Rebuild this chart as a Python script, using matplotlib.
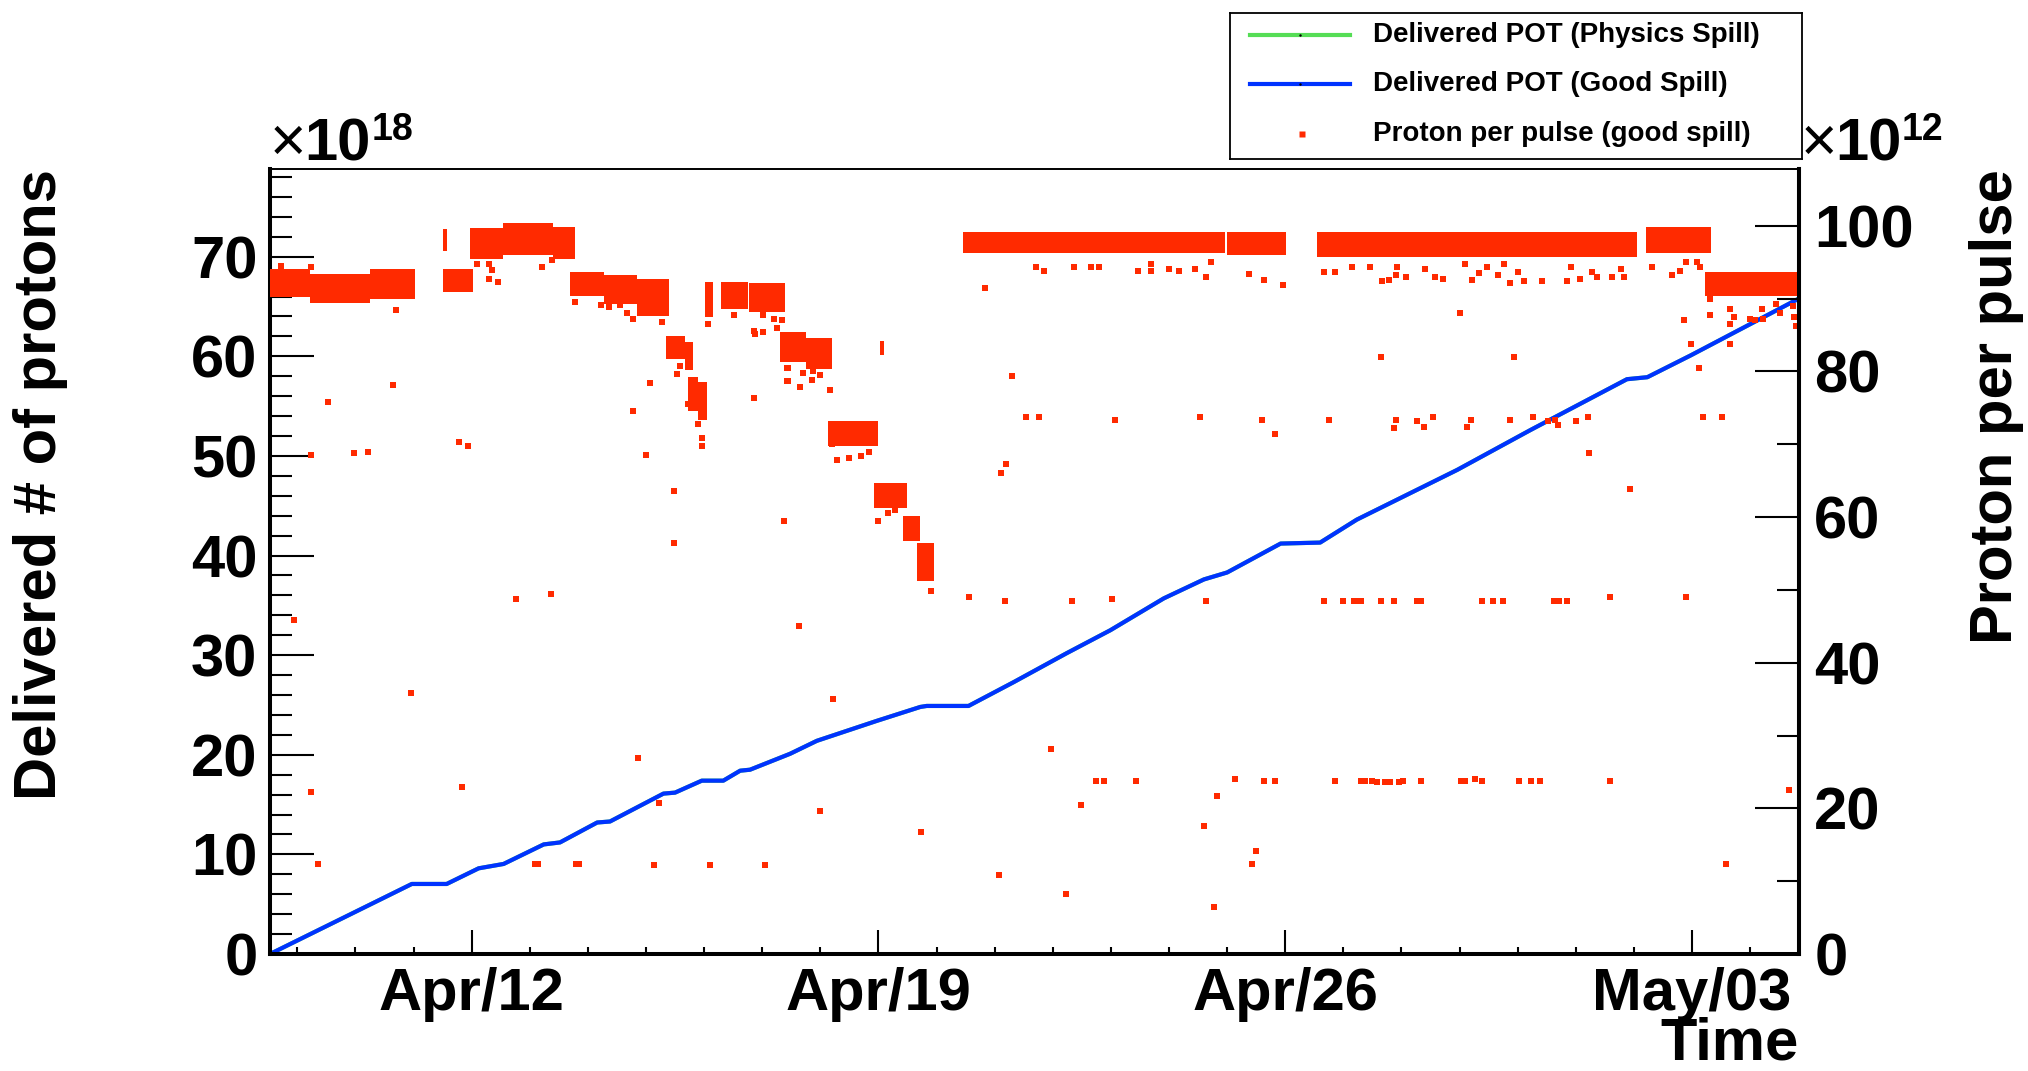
import numpy as np
import matplotlib
matplotlib.use("Agg")
import matplotlib.pyplot as plt
import matplotlib.dates as mdates
from matplotlib.ticker import MultipleLocator, FixedLocator

plt.rcParams['font.family'] = ['Liberation Sans', 'DejaVu Sans']
plt.rcParams['font.weight'] = 'bold'

# time is counted in days from Apr/12 00:00
T0 = np.datetime64('2013-04-12T00:00')
x_range = [-3.47, 22.84]
major_dates = ['2013-04-12', '2013-04-19', '2013-04-26', '2013-05-03']

# accumulated delivered POT (x10^18)
pot_days = [-3.47, -1.03, -0.43, 0.12, 0.55, 1.24, 1.52, 2.16, 2.38, 3.30, 3.50,
            3.96, 4.33, 4.62, 4.79, 5.48, 5.94, 6.97, 7.72, 7.83, 8.55, 9.33,
            10.24, 10.99, 11.91, 12.60, 13.00, 13.92, 14.60, 15.23, 16.96,
            18.22, 19.88, 20.23, 20.98, 22.84]
pot_good = [0.0, 7.03, 7.03, 8.6, 9.04, 11.0, 11.2, 13.2, 13.3, 16.1, 16.2,
            17.4, 17.4, 18.4, 18.5, 20.1, 21.4, 23.4, 24.8, 24.9, 24.9, 27.3,
            30.2, 32.5, 35.7, 37.6, 38.3, 41.2, 41.3, 43.6, 48.6,
            52.6, 57.7, 57.9, 60.1, 65.8]
pot_physics = pot_good

# dense runs of protons per pulse (x10^12): start day, end day, low, high
band_start = [-3.47, -2.78, -1.75, -0.50, -0.49, -0.03, 0.54, 1.40, 1.70, 2.27,
              2.84, 3.35, 3.67, 3.72, 3.90, 4.01, 4.29, 4.78, 5.31, 5.75, 7.03,
              6.13, 6.92, 7.43, 7.66, 8.46, 12.99, 14.54, 20.20, 21.23]
band_end = [-2.78, -1.75, -0.97, -0.43, 0.03, 0.54, 1.40, 1.78, 2.27, 2.84,
            3.39, 3.67, 3.81, 3.90, 4.05, 4.15, 4.75, 5.40, 5.75, 6.20, 7.09,
            7.00, 7.49, 7.72, 7.95, 12.97, 14.02, 20.05, 21.32, 22.87]
band_low = [90.2, 89.4, 90.0, 96.5, 90.9, 95.5, 96.0, 95.4, 90.4, 89.3,
            87.6, 81.7, 80.2, 74.5, 73.3, 87.5, 88.6, 88.2, 81.3, 80.3, 82.2,
            69.7, 61.3, 56.7, 51.2, 96.2, 96.0, 95.7, 96.2, 90.4]
band_high = [94.0, 93.4, 94.1, 99.5, 94.1, 99.7, 100.4, 99.9, 93.7, 93.2,
             92.7, 84.9, 84.0, 79.2, 78.5, 92.3, 92.3, 92.1, 85.4, 84.6, 84.2,
             73.2, 64.7, 60.1, 56.5, 99.2, 99.2, 99.2, 99.9, 93.7]

# isolated spills (x10^12)
ppp_days = [
    -3.28, -2.76, -1.31, 0.09, 0.29, 0.35, 0.45, 0.29, 1.21, 1.38,
    1.77, 2.23, 2.36, 2.55, 2.68, 2.77, 2.90, 3.27,
    3.58, 3.54, 3.73, 3.90, 3.97, 3.97,
    4.06, 4.52, 4.85, 4.88, 5.01, 5.01, 5.20, 5.26, 5.34,
    -2.48, -1.36, -2.76, -2.02, -1.79, -0.21, -0.07, 3.07, 2.77, 3.00,
    3.49, 3.49, 4.85, 5.37, 5.42, 5.42,
    -3.06, 0.77, 1.37, -1.05, -2.76, -0.17, -2.64, 1.09, 1.15, 1.80, 1.84,
    2.87, 3.23, 3.13, 4.10, 5.05,
    5.44, 5.70, 5.45, 5.65, 5.85, 5.88, 5.99, 6.16,
    6.20, 6.28, 6.49, 6.70, 6.83, 6.99, 7.16, 7.29, 7.90,
    8.84, 9.29, 9.54, 9.77, 11.07, 12.53, 13.60, 13.83, 9.19, 9.10,
    9.71, 9.84, 11.46, 11.69, 11.69, 12.00, 12.17, 12.44, 12.63, 12.72,
    13.37, 13.63, 13.96, 10.36, 10.65, 10.79,
    5.63, 6.21, 5.99, 8.55, 9.17, 10.33, 11.01, 12.63, 7.74, 9.97,
    10.75, 10.88, 11.43, 10.49, 9.07, 10.23, 12.60, 12.82, 13.14, 13.63,
    13.83, 13.50, 13.43, 12.78,
    14.66, 14.86, 15.15, 15.45, 15.67, 15.78, 15.91, 15.93, 16.07, 16.41,
    16.58, 16.72, 17.10, 17.22, 17.33, 17.47, 17.66, 17.76, 17.87, 18.01,
    18.10, 18.42, 18.85, 18.91, 19.08, 19.28, 19.37, 19.62, 19.77, 19.83,
    20.31, 20.66, 20.80, 20.90, 21.09, 21.14,
    17.00, 15.64, 17.93, 20.86, 20.98, 21.12, 21.31, 21.31, 21.66, 21.73,
    21.66, 21.66, 22.00, 22.09, 22.21, 22.22, 22.44, 22.51, 22.74, 22.76,
    22.78,
    14.76, 15.90, 15.87, 16.27, 16.38, 16.55, 17.20, 17.13, 17.87, 18.26,
    18.52, 18.65, 18.69, 19.01, 19.21, 21.19, 21.51, 19.23, 19.94,
    14.66, 14.99, 15.18, 15.24, 15.31, 15.64, 15.87, 16.27, 16.34, 17.39,
    17.58, 17.74, 18.62, 18.71, 18.84, 19.58, 20.89,
    14.86, 15.31, 15.38, 15.49, 15.58, 15.72, 15.81, 15.95, 16.03, 16.33,
    17.03, 17.10, 17.26, 17.39, 18.03, 18.23, 18.39, 19.58,
    22.66, 21.59,
]
ppp_vals = [
    94.5, 94.4, 88.5, 94.8, 94.8, 93.9, 92.3, 92.7, 94.4, 95.3,
    89.5, 89.1, 88.8, 89.1, 88.0, 87.2, 88.8, 86.8,
    80.8, 79.7, 75.5, 72.8, 70.9, 69.8,
    86.5, 87.8, 85.6, 85.2, 85.4, 87.7, 87.2, 85.9, 87.0,
    75.8, 78.1, 68.5, 68.8, 69.0, 70.3, 69.8, 78.4, 74.5, 68.5,
    63.6, 56.4, 76.3, 59.5, 80.5, 78.7,
    45.9, 48.8, 49.4, 35.8, 22.3, 23.0, 12.4, 12.4, 12.4, 12.4, 12.4,
    26.9, 20.7, 12.2, 12.2, 12.2,
    80.5, 79.8, 78.7, 77.9, 78.8, 80.1, 79.5, 77.4,
    70.0, 67.9, 68.1, 68.4, 68.9, 59.5, 60.5, 61.0, 49.8,
    91.4, 79.4, 73.7, 73.7, 73.4, 73.7, 73.4, 71.4, 67.3, 66.1,
    94.3, 93.8, 93.8, 94.8, 93.8, 94.0, 93.8, 94.1, 93.0, 95.0,
    93.4, 92.5, 91.9, 94.4, 94.4, 94.4,
    45.1, 35.0, 19.6, 49.0, 48.5, 48.5, 48.8, 48.5, 16.8, 28.2,
    23.8, 23.8, 23.8, 20.4, 10.8, 8.2, 17.6, 21.7, 24.1, 23.8,
    23.8, 14.2, 12.4, 6.4,
    93.7, 93.7, 94.3, 94.4, 92.4, 92.6, 93.2, 94.3, 93.0, 94.0,
    93.0, 92.7, 94.8, 92.5, 93.5, 94.4, 93.2, 94.8, 92.1, 93.6,
    92.4, 92.4, 92.4, 94.3, 92.7, 93.7, 93.0, 93.0, 94.0, 93.0,
    94.3, 93.2, 93.8, 95.0, 95.0, 94.3,
    88.0, 82.0, 82.0, 87.0, 83.8, 80.5, 89.9, 87.8, 88.6, 87.5,
    86.5, 83.8, 87.2, 87.0, 88.6, 87.2, 89.3, 88.0, 89.0, 87.5,
    86.2,
    73.4, 73.4, 72.2, 73.2, 72.4, 73.7, 73.4, 72.4, 73.4, 73.7,
    73.2, 73.4, 72.7, 73.2, 73.7, 73.7, 73.7, 68.8, 63.8,
    48.5, 48.5, 48.5, 48.5, 48.5, 48.5, 48.5, 48.5, 48.5, 48.5,
    48.5, 48.5, 48.5, 48.5, 48.5, 49.0, 49.0,
    23.8, 23.8, 23.8, 23.8, 23.6, 23.6, 23.6, 23.6, 23.8, 23.8,
    23.8, 23.8, 24.1, 23.8, 23.8, 23.8, 23.8, 23.8,
    22.5, 12.4,
]

legend_labels = ['Delivered POT (Physics Spill)', 'Delivered POT (Good Spill)',
                 'Proton per pulse (good spill)']

RED = '#ff2a00'
BLUE = '#0033ff'
GREEN = '#55dd55'

base = mdates.date2num(T0)
t_pot = base + np.asarray(pot_days)
t_ppp = base + np.asarray(ppp_days)
b_start = base + np.asarray(band_start)
b_width = np.asarray(band_end) - np.asarray(band_start)
b_low = np.asarray(band_low)
b_height = np.asarray(band_high) - b_low

W, H = 2028, 1071
fig = plt.figure(figsize=(W / 100, H / 100), dpi=100)
ax = fig.add_axes([270 / W, 1 - 954 / H, 1529 / W, 785 / H])
ax2 = ax.twinx()

ax.plot(t_pot, pot_physics, color=GREEN, lw=3)
ax.plot(t_pot, pot_good, color=BLUE, lw=3)

ax2.bar(b_start, b_height, width=b_width, bottom=b_low, align='edge',
        color=RED, linewidth=0)
ax2.scatter(t_ppp, ppp_vals, marker='s', s=18, color=RED, linewidths=0)

ax.set_xlim(base + x_range[0], base + x_range[1])
ax.set_ylim(0, 78.8)
ax2.set_ylim(0, 107.8)

ax.xaxis.set_major_locator(FixedLocator(mdates.date2num(np.array(major_dates, dtype='datetime64[D]'))))
ax.xaxis.set_minor_locator(mdates.DayLocator())
ax.xaxis.set_major_formatter(mdates.DateFormatter('%b/%d'))
ax.yaxis.set_major_locator(MultipleLocator(10))
ax.yaxis.set_minor_locator(MultipleLocator(2))
ax2.yaxis.set_major_locator(MultipleLocator(20))
ax2.yaxis.set_minor_locator(MultipleLocator(10))

ax.tick_params(axis='y', which='both', direction='in', width=1.5, right=False,
               labelsize=43, pad=9)
ax.tick_params(axis='y', which='major', length=32)
ax.tick_params(axis='y', which='minor', length=16)
ax.tick_params(axis='x', which='both', direction='in', width=1.5, top=False,
               labelsize=43, pad=9)
ax.tick_params(axis='x', which='major', length=17)
ax.tick_params(axis='x', which='minor', length=5)
ax2.tick_params(axis='y', which='both', direction='in', width=1.5, left=False,
                labelsize=43, pad=11)
ax2.tick_params(axis='y', which='major', length=32)
ax2.tick_params(axis='y', which='minor', length=16)

for side in ['left', 'bottom', 'right']:
    ax.spines[side].set_linewidth(2.9)
ax.spines['top'].set_linewidth(1.4)
for side in ['left', 'bottom', 'top']:
    ax2.spines[side].set_visible(False)
ax2.spines['right'].set_linewidth(2.9)

# axis titles, ROOT style (aligned to the end of the axis)
fig.text(41 / W, 1 - 169 / H, 'Delivered # of protons', rotation=90,
         ha='center', va='top', fontsize=43)
fig.text(1996 / W, 1 - 169 / H, 'Proton per pulse', rotation=90,
         ha='center', va='top', fontsize=43)
fig.text(1799 / W, 1 - 1060 / H, 'Time', ha='right', va='baseline', fontsize=43)


def exponent_label(x_axes, dx, power):
    # thin multiplication sign, bold "10", smaller bold exponent
    kw = dict(xycoords='axes fraction', textcoords='offset points',
              ha='left', va='baseline')
    ax.annotate('\u00d7', xy=(x_axes, 1), xytext=(dx, 6), fontsize=45,
                fontweight='normal', **kw)
    ax.annotate('10', xy=(x_axes, 1), xytext=(dx + 25, 6), fontsize=43, **kw)
    ax.annotate(power, xy=(x_axes, 1), xytext=(dx + 73, 21), fontsize=27, **kw)


exponent_label(0, 0, '18')
exponent_label(1, 1, '12')

# legend box drawn by hand to match the ROOT TLegend
lw_, lh_ = 572, 146
lax = fig.add_axes([1230 / W, 1 - 159 / H, lw_ / W, lh_ / H])
lax.set_xlim(0, lw_)
lax.set_ylim(lh_, 0)
lax.set_xticks([])
lax.set_yticks([])
for s in lax.spines.values():
    s.set_linewidth(1.3)
rows = [22, 71, 121]
lax.plot([20, 120], [rows[0], rows[0]], color=GREEN, lw=3)
lax.plot([20, 120], [rows[1], rows[1]], color=BLUE, lw=3)
lax.plot([70, 70], [rows[0], rows[1]], ls='none', marker='.', ms=1.5, color='black')
lax.plot([71.5], [rows[2]], ls='none', marker='s', ms=4, color=RED, mec='none')
for y, label in zip(rows, legend_labels):
    lax.text(143, y, label, ha='left', va='center', fontsize=20)

fig.savefig('out.png', dpi=100)
